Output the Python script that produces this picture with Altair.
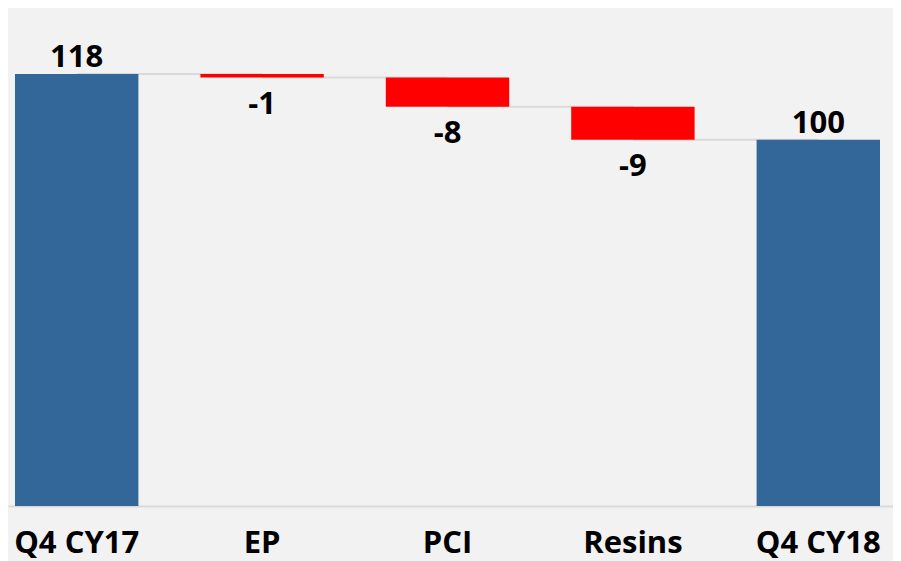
import altair as alt
import pandas as pd

categories = ["Q4 CY17", "EP", "PCI", "Resins", "Q4 CY18"]
values = [118, -1, -8, -9, 100]
kinds = ["total", "delta", "delta", "delta", "total"]

rows = []
running = 0
for c, v, k in zip(categories, values, kinds):
    if k == "total":
        start, end = 0, v
    else:
        start, end = running, running + v
    running = end
    rows.append({"cat": c, "val": v, "kind": k, "start": start, "end": end,
                 "label": str(v)})
df = pd.DataFrame(rows)

conn = pd.DataFrame([
    {"cat": categories[i], "cat2": categories[i + 1], "level": rows[i]["end"]}
    for i in range(len(categories) - 1)
])

xs = alt.Scale(domain=categories, paddingInner=0.3344, paddingOuter=0.0539, align=0.35)
ys = alt.Scale(domain=[0, 136], nice=False, zero=True)

x_axis = alt.Axis(title=None, labelAngle=0, labelFontSize=31, labelFont="Open Sans",
                  labelFontWeight="bold", labelColor="#000000", ticks=False,
                  labelPadding=22, domainColor="#d9d9d9", domainWidth=2,
                  grid=False)

rules = alt.Chart(conn).mark_rule(color="#d9d9d9", strokeWidth=2).encode(
    x=alt.X("cat:N", scale=xs, sort=categories, axis=x_axis),
    x2="cat2:N",
    y=alt.Y("level:Q", scale=ys, axis=None),
)

bars = alt.Chart(df).mark_bar(cornerRadius=0).encode(
    x=alt.X("cat:N", scale=xs, sort=categories, axis=x_axis),
    y=alt.Y("start:Q", scale=ys, axis=None),
    y2="end:Q",
    color=alt.Color("kind:N", scale=alt.Scale(domain=["total", "delta"],
                                              range=["#336699", "#ff0000"]), legend=None),
)

text_style = dict(font="Open Sans", fontSize=31, fontWeight="bold", color="#000000",
                  baseline="alphabetic")

lab_tot = alt.Chart(df).transform_filter("datum.kind == 'total'").mark_text(
    dy=-7, **text_style).encode(
    x=alt.X("cat:N", scale=xs, sort=categories, axis=x_axis),
    y=alt.Y("end:Q", scale=ys, axis=None),
    text="label:N",
)
lab_del = alt.Chart(df).transform_filter("datum.kind == 'delta'").mark_text(
    dy=36, **text_style).encode(
    x=alt.X("cat:N", scale=xs, sort=categories, axis=x_axis),
    y=alt.Y("end:Q", scale=ys, axis=None),
    text="label:N",
)

chart = alt.layer(rules, bars, lab_tot, lab_del).properties(
    width=885, height=498,
    autosize=alt.AutoSizeParams(type="none"),
    padding={"left": 0, "top": 0, "right": 0, "bottom": 55},
    background="#f2f2f2",
).configure_view(stroke=None).configure_axisY(grid=False)

chart.save("out.html", embed_options={"renderer": "svg", "actions": False})
